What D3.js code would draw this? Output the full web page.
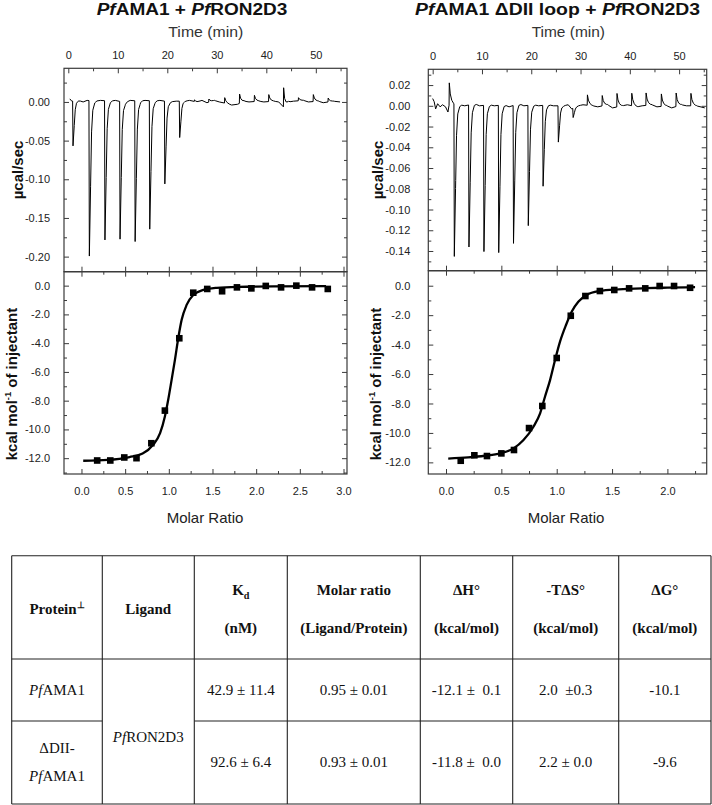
<!DOCTYPE html>
<html><head><meta charset="utf-8">
<script src="https://cdn.jsdelivr.net/npm/d3@7"></script>
<style>body{margin:0;background:#fff}svg{display:block}</style>
</head><body>
<svg id="c" width="712" height="805"></svg>
<script>
// ---------------- DATA ----------------
const titleLeft = "*Pf*AMA1 + *Pf*RON2D3";
const titleRight = "*Pf*AMA1 ΔDII loop + *Pf*RON2D3";
const timeLabel = "Time (min)";
const powerLabel = "µcal/sec";
const enthalpyLabel = "kcal mol^{-1} of injectant";
const ratioLabel = "Molar Ratio";

const timeTicks = [0, 10, 20, 30, 40, 50];
const timeMinor = [5, 15, 25, 35, 45, 55];
const leftPowerTicks = [0.00, -0.05, -0.10, -0.15, -0.20];
const leftPowerMinor = [0.025, -0.025, -0.075, -0.125, -0.175];
const rightPowerTicks = [0.02, 0.00, -0.02, -0.04, -0.06, -0.08, -0.10, -0.12, -0.14];
const rightPowerMinor = [0.03, 0.01, -0.01, -0.03, -0.05, -0.07, -0.09, -0.11, -0.13, -0.15];
const enthalpyTicks = [0, -2, -4, -6, -8, -10, -12];
const leftEnthalpyMinor = [-1, -3, -5, -7, -9, -11, -13];
const rightEnthalpyMinor = [-1, -3, -5, -7, -9, -11];
const leftRatioTicks = [0, 0.5, 1.0, 1.5, 2.0, 2.5, 3.0];
const leftRatioMinor = [0.25, 0.75, 1.25, 1.75, 2.25, 2.75];
const rightRatioTicks = [0, 0.5, 1.0, 1.5, 2.0];
const rightRatioMinor = [0.25, 0.75, 1.25, 1.75, 2.25];

// thermograms: injection times (min) and peak heat rates (µcal/sec)
const leftInjTimes = [0.95, 4.25, 7.4, 10.45, 13.5, 16.45, 19.5, 22.5, 25.5, 28.4, 31.6, 34.6, 37.6, 40.5, 43.5, 46.5, 49.5, 52.5];
const leftInjHeat  = [-0.058, -0.201, -0.180, -0.178, -0.182, -0.166, -0.107, -0.047, 0.002, 0.004, 0.007, 0.012, 0.008, 0.009, 0.025, 0.004, 0.009, 0.005];
const leftBaseline = [[0.3,0.004],[0.7,0.001],[2,0.002],[3,0.000],[3.8,0.002],[5.5,0.001],[6.5,0.002],[8.5,0.001],[9.5,0.002],[11.5,-0.001],[12.5,0.002],[14.5,0.001],[15.5,0.002],[17.5,0.001],[18.5,0.002],[20.5,0.000],[21.8,0.001],[23.5,0.001],[24.5,0.002],[26,0.000],[27,0.002],[28,-0.001],[29.5,0.002],[30.5,0.000],[32,-0.002],[33,-0.004],[34.2,-0.003],[35.5,0.001],[36.5,0.000],[38.5,0.001],[39.5,0.000],[41.5,0.001],[42.5,0.000],[43.7,-0.008],[44.5,0.000],[45.5,0.001],[47.5,0.002],[48.5,0.000],[50.5,0.001],[51.5,-0.001],[53.5,0.001],[54.9,0.000]];

const rightInjTimes = [3.37, 4.39, 7.36, 10.4, 13.4, 16.4, 19.4, 22.4, 25.5, 28.5, 31.4, 34.4, 37.4, 40.4, 43.3, 46.4, 49.4, 52.4];
const rightInjHeat  = [0.022, -0.147, -0.137, -0.141, -0.142, -0.133, -0.116, -0.078, -0.035, -0.009, 0.010, 0.010, 0.013, 0.012, 0.012, 0.012, 0.013, 0.012];
const rightBaseline = [[0,0.007],[0.3,0.004],[0.6,-0.003],[1.0,0.002],[1.5,-0.001],[2.0,0.001],[2.6,-0.001],[3.1,-0.006],[3.3,0.000],[3.9,0.001],[5.5,0.001],[6.5,0.000],[8.5,0.002],[9.5,0.000],[11.5,0.001],[12.5,0.000],[14.5,0.001],[15.5,-0.001],[17.5,0.002],[18.5,0.000],[20.5,0.001],[21.5,0.000],[23.5,0.001],[24.5,0.000],[26.5,0.000],[27.5,0.001],[28.2,-0.003],[29.5,0.000],[30.5,0.001],[32.5,0.000],[33.5,-0.001],[35.5,0.001],[36.5,-0.002],[38.5,0.000],[39.5,0.001],[41.5,-0.001],[42.5,0.000],[44.5,0.001],[45.5,-0.001],[47.5,0.000],[48.5,-0.002],[50.5,0.001],[51.5,0.000],[53.5,0.000],[55.2,-0.002]];

// integrated heats
const leftRatio = [0.18, 0.33, 0.49, 0.63, 0.80, 0.955, 1.12, 1.28, 1.44, 1.61, 1.78, 1.945, 2.11, 2.285, 2.46, 2.64, 2.82];
const leftEnthalpy = [-12.16, -12.16, -11.95, -12.0, -10.96, -8.69, -3.66, -0.49, -0.23, -0.39, -0.12, -0.19, -0.02, -0.12, 0.0, -0.12, -0.23];
const leftFitRatio = [0.02, 0.3, 0.55, 0.7, 0.82, 0.9, 0.955, 0.993, 1.032, 1.07, 1.108, 1.147, 1.204, 1.28, 1.395, 1.55, 1.8, 2.2, 2.8];
const leftFitEnthalpy = [-12.18, -12.12, -11.92, -11.68, -11.07, -10.26, -9.1, -7.94, -6.55, -5.16, -3.66, -2.38, -1.34, -0.65, -0.3, -0.15, -0.08, -0.05, -0.04];

const rightRatio = [0.133, 0.256, 0.370, 0.50, 0.614, 0.75, 0.87, 1.0, 1.127, 1.259, 1.39, 1.52, 1.654, 1.80, 1.93, 2.06, 2.205];
const rightEnthalpy = [-11.89, -11.52, -11.57, -11.39, -11.16, -9.67, -8.17, -4.91, -2.04, -0.70, -0.36, -0.29, -0.18, -0.18, -0.02, -0.02, -0.14];
const rightFitRatio = [0.02, 0.2, 0.35, 0.49, 0.61, 0.7, 0.79, 0.85, 0.894, 0.94, 0.985, 1.03, 1.084, 1.135, 1.195, 1.27, 1.39, 1.56, 1.8, 2.0, 2.25];
const rightFitEnthalpy = [-11.74, -11.66, -11.55, -11.39, -11.05, -10.48, -9.58, -8.67, -7.54, -6.41, -5.05, -3.8, -2.67, -1.77, -1.09, -0.63, -0.36, -0.25, -0.17, -0.13, -0.1];

// table
const colHeaders = [["Protein^{⊥}"], ["Ligand"], ["K_{d}", "(nM)"], ["Molar ratio", "(Ligand/Protein)"], ["ΔH°", "(kcal/mol)"], ["-TΔS°", "(kcal/mol)"], ["ΔG°", "(kcal/mol)"]];
const proteins = [["*Pf*AMA1"], ["ΔDII-", "*Pf*AMA1"]];
const ligand = "*Pf*RON2D3";
const kd = ["42.9 ± 11.4", "92.6 ± 6.4"];
const molarRatio = ["0.95 ± 0.01", "0.93 ± 0.01"];
const deltaH = ["-12.1 ±  0.1", "-11.8 ±  0.0"];
const minusTdeltaS = ["2.0  ±0.3", "2.2 ± 0.0"];
const deltaG = ["-10.1", "-9.6"];

// ---------------- DRAWING ----------------
const SANS = "'Liberation Sans', Arial, sans-serif";
const SERIF = "'Liberation Serif', 'Times New Roman', serif";
const svg = d3.select("#c");

function rich(sel, str, size) {
  const re = /\*([^*]+)\*|_\{([^}]+)\}|\^\{([^}]+)\}|([^*_^]+)/g;
  let m, cur = 0;
  while ((m = re.exec(str))) {
    const ts = sel.append("tspan");
    let target = 0;
    if (m[1]) ts.text(m[1]).attr("font-style", "italic");
    else if (m[2]) { ts.text(m[2]).attr("font-size", size * 0.68); target = size * 0.28; }
    else if (m[3]) { ts.text(m[3]).attr("font-size", size * 0.62); target = -size * 0.42; }
    else ts.text(m[4]);
    if (target !== cur) { ts.attr("dy", target - cur); cur = target; }
  }
  return sel;
}

function styleAxis(a, labelSize) {
  a.select(".domain").remove();
  a.selectAll("line").attr("stroke", "#3a3a3a").attr("stroke-width", 1);
  a.selectAll("text").attr("font-family", SANS).attr("font-size", labelSize || 11).attr("fill", "#222");
  return a;
}

function interp(arr, t) {
  if (t <= arr[0][0]) return arr[0][1];
  for (let i = 1; i < arr.length; i++) {
    if (t <= arr[i][0]) {
      const a = arr[i - 1], b = arr[i];
      return a[1] + (b[1] - a[1]) * (t - a[0]) / (b[0] - a[0]);
    }
  }
  return arr[arr.length - 1][1];
}
const downShape = [[-0.08, 0], [0, 1], [0.25, 0.55], [0.45, 0.2], [0.7, 0.06], [1.1, 0.012], [1.5, 0]];
const upShape = [[-0.05, 0], [0, 1], [0.2, 0.5], [0.5, 0.2], [0.9, 0.05], [1.3, 0]];
function shapeAt(shape, dt) {
  if (dt < shape[0][0] || dt > shape[shape.length - 1][0]) return 0;
  return interp(shape, dt);
}
function buildTrace(base, times, heats) {
  const t0 = base[0][0], t1 = base[base.length - 1][0];
  const set = new Set(base.map(d => d[0]));
  times.forEach((t, i) => (heats[i] < 0 ? downShape : upShape).forEach(s => {
    const v = +(t + s[0]).toFixed(3); if (v >= t0 && v <= t1) set.add(v);
  }));
  const ts = [...set].sort((a, b) => a - b);
  return ts.map(t => {
    let v = interp(base, t);
    times.forEach((ti, i) => { v += heats[i] * shapeAt(heats[i] < 0 ? downShape : upShape, t - ti); });
    return [t, v];
  });
}

function thermoPanel(o) {
  const g = svg.append("g");
  const x = d3.scaleLinear().domain(o.xd).range([o.L, o.R]);
  const y = d3.scaleLinear().domain(o.yd).range([o.B, o.T]);
  const trace = buildTrace(o.base, o.times, o.heats);
  g.append("path").datum(trace)
    .attr("d", d3.line().x(d => x(d[0])).y(d => y(d[1])))
    .attr("fill", "none").attr("stroke", "#000").attr("stroke-width", 1);
  styleAxis(g.append("g").attr("transform", `translate(0,${o.T})`)
    .call(d3.axisTop(x).tickValues(timeTicks).tickSize(-5).tickPadding(9).tickFormat(d => d)));
  styleAxis(g.append("g").attr("transform", `translate(0,${o.T})`)
    .call(d3.axisTop(x).tickValues(timeMinor).tickSize(-3).tickFormat("")));
  styleAxis(g.append("g").attr("transform", `translate(${o.L},0)`)
    .call(d3.axisLeft(y).tickValues(o.yt).tickSize(-5).tickPadding(o.pad).tickFormat(d => d.toFixed(2))));
  styleAxis(g.append("g").attr("transform", `translate(${o.L},0)`)
    .call(d3.axisLeft(y).tickValues(o.ym).tickSize(-3).tickFormat("")));
  styleAxis(g.append("g").attr("transform", `translate(${o.R},0)`)
    .call(d3.axisRight(y).tickValues(o.yt).tickSize(-5).tickFormat("")));
  styleAxis(g.append("g").attr("transform", `translate(${o.R},0)`)
    .call(d3.axisRight(y).tickValues(o.ym).tickSize(-3).tickFormat("")));
  g.append("rect").attr("x", o.L).attr("y", o.T).attr("width", o.R - o.L).attr("height", o.B - o.T)
    .attr("fill", "none").attr("stroke", "#3a3a3a").attr("stroke-width", 1.2);
  // titles
  const title = g.append("text").attr("x", o.titleX).attr("y", 15).attr("font-family", SANS)
    .attr("font-weight", "bold").attr("font-size", 16).attr("fill", "#111")
    .attr("textLength", o.titleW).attr("lengthAdjust", "spacingAndGlyphs");
  rich(title, o.title, 16);
  g.append("text").attr("x", o.timeX).attr("y", 36.5).attr("font-family", SANS).attr("font-size", 15)
    .attr("fill", "#333").attr("textLength", o.timeW).attr("lengthAdjust", "spacingAndGlyphs").text(timeLabel);
  g.append("text").attr("transform", `translate(${o.ylabX},${(o.T + o.B) / 2}) rotate(-90)`)
    .attr("text-anchor", "middle").attr("font-family", SANS).attr("font-weight", "bold")
    .attr("font-size", 15).attr("fill", "#111").text(powerLabel);
}

function isoPanel(o) {
  const g = svg.append("g");
  const x = d3.scaleLinear().domain(o.xd).range([o.L, o.R]);
  const y = d3.scaleLinear().domain(o.yd).range([o.B, o.T]);
  const fit = o.fitX.map((v, i) => [v, o.fitY[i]]);
  g.append("path").datum(fit)
    .attr("d", d3.line().curve(d3.curveMonotoneX).x(d => x(d[0])).y(d => y(d[1])))
    .attr("fill", "none").attr("stroke", "#000").attr("stroke-width", 2.3);
  const pts = o.px.map((v, i) => [v, o.py[i]]);
  const s = 6.6;
  g.selectAll("rect.pt").data(pts).join("rect").attr("class", "pt")
    .attr("x", d => x(d[0]) - s / 2).attr("y", d => y(d[1]) - s / 2)
    .attr("width", s).attr("height", s).attr("fill", "#000");
  styleAxis(g.append("g").attr("transform", `translate(0,${o.B})`)
    .call(d3.axisBottom(x).tickValues(o.xt).tickSize(-5).tickPadding(13).tickFormat(d => d.toFixed(1))));
  styleAxis(g.append("g").attr("transform", `translate(0,${o.B})`)
    .call(d3.axisBottom(x).tickValues(o.xm).tickSize(-3).tickFormat("")));
  // top edge ticks crossing the shared border
  styleAxis(g.append("g").attr("transform", `translate(0,${o.T})`)
    .call(d3.axisTop(x).tickValues(o.xt).tickSize(5).tickFormat("")));
  styleAxis(g.append("g").attr("transform", `translate(0,${o.T})`)
    .call(d3.axisTop(x).tickValues(o.xt).tickSize(-5).tickFormat("")));
  styleAxis(g.append("g").attr("transform", `translate(0,${o.T})`)
    .call(d3.axisTop(x).tickValues(o.xm).tickSize(-3).tickFormat("")));
  styleAxis(g.append("g").attr("transform", `translate(${o.L},0)`)
    .call(d3.axisLeft(y).tickValues(enthalpyTicks).tickSize(-5).tickPadding(o.pad).tickFormat(d => d.toFixed(1))));
  styleAxis(g.append("g").attr("transform", `translate(${o.L},0)`)
    .call(d3.axisLeft(y).tickValues(o.ym).tickSize(-3).tickFormat("")));
  styleAxis(g.append("g").attr("transform", `translate(${o.R},0)`)
    .call(d3.axisRight(y).tickValues(enthalpyTicks).tickSize(-5).tickFormat("")));
  styleAxis(g.append("g").attr("transform", `translate(${o.R},0)`)
    .call(d3.axisRight(y).tickValues(o.ym).tickSize(-3).tickFormat("")));
  g.append("rect").attr("x", o.L).attr("y", o.T).attr("width", o.R - o.L).attr("height", o.B - o.T)
    .attr("fill", "none").attr("stroke", "#3a3a3a").attr("stroke-width", 1.2);
  g.append("text").attr("x", o.ratioX).attr("y", 523).attr("text-anchor", "middle").attr("font-family", SANS)
    .attr("font-size", 15).attr("fill", "#222").text(ratioLabel);
  const yl = g.append("text").attr("transform", `translate(${o.ylabX},${o.ylabY}) rotate(-90)`)
    .attr("text-anchor", "middle").attr("font-family", SANS).attr("font-weight", "bold")
    .attr("font-size", 15).attr("fill", "#111");
  rich(yl, enthalpyLabel, 15);
}

thermoPanel({L: 64, R: 347, T: 68.3, B: 271.7, xd: [-0.87, 56.3], yd: [-0.2195, 0.0435],
  yt: leftPowerTicks, ym: leftPowerMinor, pad: 14, base: leftBaseline, times: leftInjTimes, heats: leftInjHeat,
  title: titleLeft, titleX: 96.7, titleW: 190.6, timeX: 168.3, timeW: 75, ylabX: 22.6});
thermoPanel({L: 428.3, R: 706.7, T: 69.3, B: 270.7, xd: [-0.89, 55.6], yd: [-0.159, 0.0352],
  yt: rightPowerTicks, ym: rightPowerMinor, pad: 18, base: rightBaseline, times: rightInjTimes, heats: rightInjHeat,
  title: titleRight, titleX: 415, titleW: 285, timeX: 531.7, timeW: 73.3, ylabX: 382.6});
isoPanel({L: 64, R: 347, T: 271.7, B: 474, xd: [-0.2, 3.04], yd: [-13.1, 0.97],
  xt: leftRatioTicks, xm: leftRatioMinor, ym: leftEnthalpyMinor, pad: 14,
  px: leftRatio, py: leftEnthalpy, fitX: leftFitRatio, fitY: leftFitEnthalpy,
  ratioX: 205, ylabX: 17, ylabY: 384});
isoPanel({L: 428.3, R: 706.7, T: 270.7, B: 474, xd: [-0.16, 2.355], yd: [-12.79, 1.02],
  xt: rightRatioTicks, xm: rightRatioMinor, ym: rightEnthalpyMinor, pad: 18,
  px: rightRatio, py: rightEnthalpy, fitX: rightFitRatio, fitY: rightFitEnthalpy,
  ratioX: 566, ylabX: 381, ylabY: 384});

// ---------------- TABLE ----------------
const colX = [11.7, 102.3, 194.3, 287.3, 420.3, 512.7, 618.7, 711];
const tTop = 555.7, tHead = 659, tMid = 721, tBot = 804;
const tg = svg.append("g");
const lineStyle = s => s.attr("stroke", "#222").attr("stroke-width", 1.1);
colX.forEach(cx => lineStyle(tg.append("line").attr("x1", cx).attr("x2", cx).attr("y1", tTop).attr("y2", tBot)));
[tTop, tHead, tBot].forEach(yy => lineStyle(tg.append("line").attr("x1", colX[0]).attr("x2", colX[7]).attr("y1", yy).attr("y2", yy)));
lineStyle(tg.append("line").attr("x1", colX[0]).attr("x2", colX[1]).attr("y1", tMid).attr("y2", tMid));
lineStyle(tg.append("line").attr("x1", colX[2]).attr("x2", colX[7]).attr("y1", tMid).attr("y2", tMid));
tg.select("line").attr("stroke-width", 1.1);

function cellText(cx, yy, str, bold) {
  const t = tg.append("text").attr("x", cx).attr("y", yy).attr("text-anchor", "middle")
    .attr("font-family", SERIF).attr("font-size", 15).attr("fill", "#111")
    .attr("font-weight", bold ? "bold" : "normal").style("white-space", "pre");
  rich(t, str, 15);
}
colHeaders.forEach((lines, i) => {
  const cx = (colX[i] + colX[i + 1]) / 2;
  if (lines.length === 1) cellText(cx, 614, lines[0], true);
  else { cellText(cx, 595, lines[0], true); cellText(cx, 633, lines[1], true); }
});
const rowBase = [695, 767];
proteins.forEach((lines, r) => {
  const cx = (colX[0] + colX[1]) / 2;
  if (lines.length === 1) cellText(cx, rowBase[r], lines[0], false);
  else { cellText(cx, 753, lines[0], false); cellText(cx, 781, lines[1], false); }
});
cellText((colX[1] + colX[2]) / 2, 742, ligand, false);
[kd, molarRatio, deltaH, minusTdeltaS, deltaG].forEach((col, j) => {
  const cx = (colX[j + 2] + colX[j + 3]) / 2;
  col.forEach((v, r) => cellText(cx, rowBase[r], v, false));
});
</script>
</body></html>
